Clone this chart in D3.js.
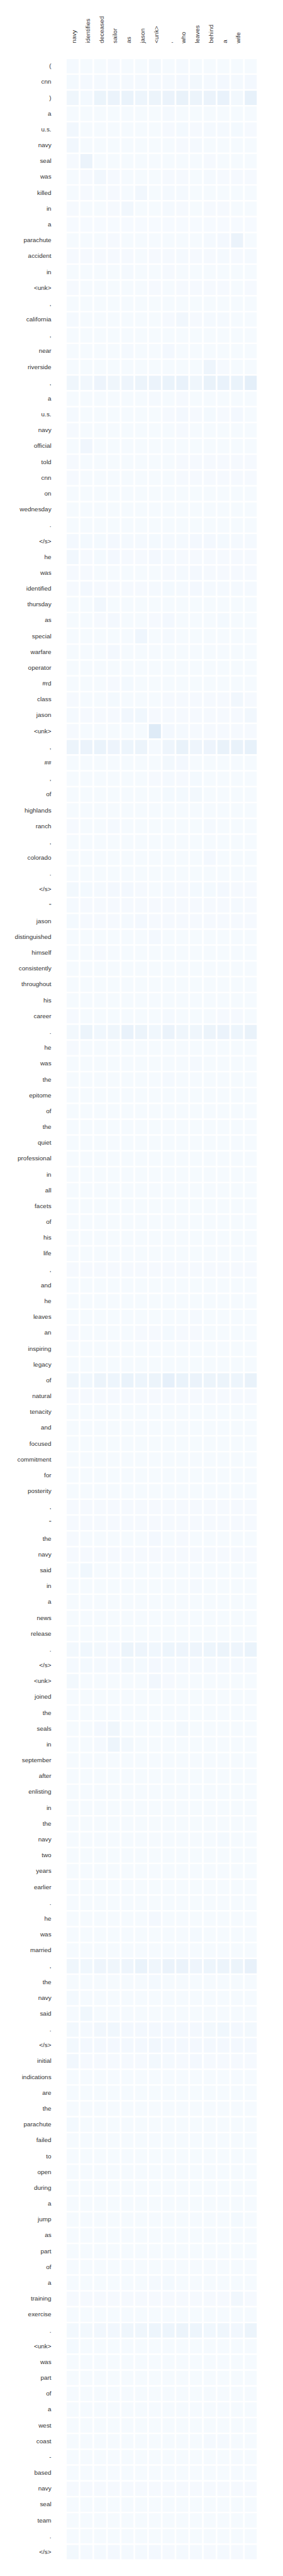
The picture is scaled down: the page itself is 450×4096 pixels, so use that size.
<!DOCTYPE html>
<html><head><meta charset="utf-8">
<script src="https://cdn.jsdelivr.net/npm/d3@7"></script>
<style>html,body{margin:0;padding:0;background:#fff;} svg{display:block}</style>
</head><body><svg id="chart"></svg>
<script>
const colLabels = ["navy","identifies","deceased","sailor","as","jason","<unk>",",","who","leaves","behind","a","wife",""];
const rowLabels = ["(","cnn",")","a","u.s.","navy","seal","was","killed","in","a","parachute","accident","in","<unk>",",","california",",","near","riverside",",","a","u.s.","navy","official","told","cnn","on","wednesday",".","</s>","he","was","identified","thursday","as","special","warfare","operator","#rd","class","jason","<unk>",",","##",",","of","highlands","ranch",",","colorado",".","</s>","\"","jason","distinguished","himself","consistently","throughout","his","career",".","he","was","the","epitome","of","the","quiet","professional","in","all","facets","of","his","life",",","and","he","leaves","an","inspiring","legacy","of","natural","tenacity","and","focused","commitment","for","posterity",",","\"","the","navy","said","in","a","news","release",".","</s>","<unk>","joined","the","seals","in","september","after","enlisting","in","the","navy","two","years","earlier",".","he","was","married",",","the","navy","said",".","</s>","initial","indications","are","the","parachute","failed","to","open","during","a","jump","as","part","of","a","training","exercise",".","<unk>","was","part","of","a","west","coast","-","based","navy","seal","team",".","</s>"];
// attention weights, in thousandths (one row per source token, one column per target token)
const weights = [
[14,10,10,12,10,11,24,11,13,11,11,11,10,11],
[18,14,15,16,14,15,17,16,22,24,16,21,15,20],
[40,18,58,62,66,50,56,60,72,56,60,70,24,82],
[10,9,9,9,9,9,10,14,10,10,10,10,10,10],
[32,10,11,11,10,11,11,12,18,12,15,15,18,12],
[32,10,10,10,10,10,10,11,12,15,10,10,10,10],
[12,62,11,11,11,11,11,11,11,11,12,11,11,11],
[11,12,30,12,10,10,11,12,12,11,16,12,12,12],
[11,12,11,12,11,32,11,14,15,11,11,11,11,11],
[12,11,11,12,30,11,11,15,12,11,12,12,11,11],
[7,7,7,7,7,7,7,7,7,7,7,7,7,7],
[10,10,10,12,10,10,10,10,10,10,14,20,60,11],
[12,12,12,12,12,11,12,12,13,12,12,14,12,14],
[11,10,10,11,15,10,11,12,11,11,11,11,11,11],
[12,11,11,11,11,11,12,11,12,12,12,12,11,12],
[10,9,9,9,9,9,10,10,10,10,10,10,10,10],
[15,10,10,10,10,10,11,12,28,12,16,16,11,11],
[10,9,9,9,9,9,10,10,10,10,10,10,10,10],
[10,9,9,10,14,10,11,20,10,10,10,10,10,10],
[10,10,10,10,10,10,10,10,11,10,45,12,11,11],
[42,30,52,42,46,55,60,66,70,40,72,70,66,96],
[10,10,10,10,10,10,14,10,12,10,10,10,10,10],
[14,10,10,10,10,10,10,12,22,12,18,12,20,11],
[12,10,10,10,10,10,11,11,12,11,11,11,11,11],
[10,36,10,10,10,10,10,10,10,10,10,10,10,10],
[12,11,11,11,11,11,11,11,12,12,12,12,12,12],
[12,11,11,11,11,11,11,11,12,12,12,12,12,12],
[10,10,10,10,10,10,10,10,10,11,11,11,11,11],
[10,10,10,10,10,10,10,10,10,10,10,10,10,10],
[10,10,10,10,10,10,10,10,10,10,10,10,10,10],
[20,18,18,20,17,15,18,16,17,20,22,18,15,15],
[30,12,18,20,12,12,20,14,12,12,12,12,12,12],
[12,12,11,11,11,11,11,12,13,22,12,12,12,12],
[12,20,12,12,12,12,13,18,15,22,13,13,13,13],
[10,10,28,10,10,10,10,10,10,11,10,10,10,10],
[10,10,12,20,10,11,12,22,11,11,11,18,11,11],
[10,10,11,11,10,38,10,15,11,10,10,10,10,10],
[10,10,10,20,10,10,10,11,10,10,10,10,10,10],
[10,10,10,10,10,10,10,10,10,10,10,10,10,10],
[10,10,10,12,18,11,10,10,10,11,10,10,10,10],
[12,11,11,18,11,11,11,12,12,12,12,12,28,12],
[15,12,12,12,30,35,12,12,12,12,12,12,12,30],
[12,11,11,11,11,11,125,20,14,12,12,12,12,12],
[55,60,66,52,50,56,14,46,72,46,52,72,72,82],
[10,10,10,10,10,10,11,25,22,10,10,10,10,10],
[11,11,11,11,11,11,12,15,12,18,11,11,11,11],
[10,10,10,10,10,10,11,18,18,25,11,11,11,11],
[10,10,10,10,10,10,10,10,10,10,11,10,10,10],
[12,11,11,15,11,11,11,11,11,11,15,11,11,11],
[10,10,10,10,10,10,10,11,10,10,10,10,10,10],
[10,10,10,10,10,10,10,10,10,11,20,10,10,10],
[8,8,8,8,8,8,8,8,8,8,8,8,8,8],
[25,18,15,22,20,12,10,15,12,18,18,20,12,12],
[15,12,12,12,12,12,12,12,12,12,12,12,13,12],
[18,12,12,12,14,20,12,12,12,12,12,12,12,12],
[10,10,10,10,10,10,22,10,10,10,10,10,10,10],
[10,10,12,11,10,10,10,10,10,10,10,10,10,10],
[10,10,10,10,10,10,10,10,10,10,10,10,10,10],
[10,10,10,10,10,10,10,10,10,10,10,10,10,10],
[10,10,10,10,10,10,10,10,10,10,10,10,10,10],
[12,11,11,11,11,11,11,15,11,11,11,12,12,11],
[25,55,35,40,70,55,35,60,40,40,55,60,50,72],
[12,11,11,11,11,11,11,11,11,11,11,11,11,11],
[10,10,10,10,10,10,10,10,10,15,10,10,10,10],
[10,10,10,10,10,10,10,15,10,10,10,10,10,10],
[10,10,10,10,10,10,10,10,10,10,10,10,10,10],
[8,8,8,8,8,8,8,8,8,8,8,8,8,8],
[8,8,8,8,8,8,8,8,8,8,8,8,8,8],
[8,8,8,8,8,8,8,8,8,8,8,8,8,8],
[8,8,8,8,8,8,8,8,8,8,8,8,8,8],
[10,10,10,10,10,10,10,10,10,10,10,10,10,10],
[8,8,8,8,8,8,8,8,8,8,8,8,8,8],
[8,8,8,8,8,8,8,8,8,8,8,8,8,8],
[8,8,8,8,8,8,8,8,8,8,8,8,8,8],
[8,8,8,8,8,8,8,8,8,8,8,8,8,8],
[10,10,10,10,10,10,10,10,10,10,10,10,10,10],
[12,12,12,12,12,12,12,12,12,12,12,12,12,12],
[10,10,10,10,10,10,10,10,10,10,10,10,10,10],
[10,10,10,10,10,10,10,10,10,10,10,10,10,10],
[10,10,10,10,10,10,10,10,10,15,10,10,10,10],
[12,11,11,11,11,12,12,18,12,12,11,11,11,11],
[10,10,10,10,10,10,10,10,10,10,10,10,10,10],
[8,8,8,8,8,8,8,8,8,8,8,8,8,8],
[40,35,55,50,65,50,55,85,65,60,55,55,50,72],
[12,12,12,12,12,12,12,12,12,12,12,12,12,12],
[10,10,10,10,10,10,10,10,10,10,10,10,10,10],
[8,8,8,8,8,8,8,8,8,8,8,8,8,8],
[8,8,8,8,8,8,8,8,8,8,8,8,8,8],
[8,8,8,8,8,8,8,8,8,8,8,8,8,8],
[8,8,8,8,8,8,8,8,8,8,8,8,8,8],
[10,10,10,10,10,10,10,10,10,10,10,10,10,10],
[12,12,12,12,12,12,12,12,12,12,12,12,12,12],
[12,12,12,12,12,12,12,12,12,12,12,12,12,12],
[12,11,11,11,11,11,20,11,12,11,11,11,11,11],
[12,12,12,12,12,12,12,12,12,12,12,12,12,12],
[10,35,10,10,10,10,10,10,10,10,10,10,10,10],
[10,10,10,10,10,10,10,10,10,15,10,10,10,10],
[10,10,10,10,10,10,10,10,10,10,10,10,10,10],
[8,8,8,8,8,8,8,8,8,8,8,8,8,8],
[8,8,8,8,8,8,8,8,8,8,8,8,8,8],
[25,35,25,22,55,45,35,50,45,45,50,55,45,65],
[15,18,14,14,25,18,22,15,15,15,15,15,15,15],
[25,10,10,10,10,10,28,12,10,10,10,10,10,10],
[10,10,10,10,10,10,10,10,10,10,10,10,10,10],
[10,10,10,10,10,10,10,10,10,10,10,10,10,10],
[10,10,22,40,10,10,10,10,25,10,10,10,10,10],
[10,10,15,50,25,10,10,10,10,10,10,10,10,10],
[10,10,10,10,10,10,10,10,10,10,10,10,10,10],
[10,10,10,10,10,10,10,10,10,10,10,10,10,10],
[10,10,10,10,10,10,10,10,10,10,10,10,10,10],
[10,10,10,10,10,10,10,10,10,10,10,10,10,10],
[8,8,8,8,8,8,8,8,8,8,8,8,8,8],
[10,10,10,10,10,10,10,10,10,10,10,18,10,10],
[10,10,10,10,10,10,10,10,10,10,10,10,10,10],
[10,10,10,10,10,10,10,10,10,10,10,10,10,10],
[8,8,8,8,8,8,8,8,8,8,8,8,8,8],
[10,10,10,10,10,10,10,10,10,10,10,10,10,10],
[10,10,10,10,10,10,22,10,10,10,10,10,10,10],
[10,10,10,10,10,10,10,10,10,18,10,10,10,10],
[10,10,10,10,10,10,10,10,10,10,10,10,10,10],
[40,35,45,40,45,65,40,60,60,45,50,55,55,75],
[10,10,10,10,10,10,18,10,10,10,10,10,10,10],
[18,10,10,10,10,10,10,10,10,10,10,10,10,10],
[10,35,10,10,10,10,10,10,10,10,10,10,10,10],
[25,15,30,35,22,22,22,22,20,22,25,35,20,25],
[25,20,20,22,20,20,28,20,20,20,20,20,20,20],
[30,12,12,12,12,12,25,14,12,20,12,12,12,12],
[10,10,10,10,10,10,10,10,10,10,10,10,10,10],
[10,10,10,10,10,10,10,10,10,10,10,10,10,10],
[8,8,8,8,8,8,8,8,8,8,8,8,8,8],
[18,10,10,10,10,10,10,10,10,10,10,10,10,10],
[10,10,10,10,10,10,10,10,10,10,10,10,10,10],
[10,10,10,10,10,10,10,10,10,10,10,10,10,10],
[10,10,10,10,10,10,10,10,10,10,10,10,10,10],
[10,10,10,10,10,10,10,10,10,10,10,10,10,10],
[10,10,10,10,10,10,10,10,10,10,10,10,10,10],
[10,10,10,10,10,10,10,10,10,10,10,10,18,10],
[10,10,10,10,10,10,10,10,10,10,10,10,10,10],
[10,10,10,10,10,10,10,10,10,10,10,10,10,10],
[10,10,10,10,10,10,10,10,10,10,10,10,10,10],
[10,10,10,10,10,10,15,18,10,10,10,10,10,10],
[12,12,12,12,12,12,12,12,12,12,12,12,28,12],
[10,10,10,10,10,10,10,10,10,10,10,10,10,10],
[25,25,30,30,40,40,50,50,55,50,35,40,30,55],
[18,10,10,10,10,10,10,10,10,10,10,10,10,10],
[10,10,10,10,10,10,10,10,10,10,10,10,10,10],
[10,10,10,10,10,10,10,10,10,10,10,10,10,10],
[10,10,10,10,10,10,10,10,10,10,10,10,10,10],
[10,10,10,10,10,10,10,10,10,10,10,10,10,10],
[10,10,10,10,10,10,10,10,10,10,10,10,10,10],
[10,10,10,10,10,10,10,10,10,10,15,15,10,10],
[10,10,10,10,10,10,10,10,10,10,10,10,10,10],
[10,10,10,10,10,10,10,10,10,10,10,10,10,10],
[12,12,12,12,12,12,12,12,12,12,12,12,12,12],
[10,10,10,10,10,10,10,10,10,10,10,10,10,10],
[10,10,10,10,10,10,10,10,10,10,10,10,10,10],
[10,10,10,10,10,10,10,10,10,10,10,10,10,10],
[25,15,15,22,15,15,20,12,15,15,12,15,12,15]
];

const W = 543, H = 4942, S = 450 / 543;
const svg = d3.select('#chart')
  .attr('width', W * S).attr('height', H * S)
  .attr('viewBox', `0 0 ${W} ${H}`);

const x = d3.scaleBand().domain(d3.range(colLabels.length)).range([126.35, 494.3]);
const y = d3.scaleBand().domain(d3.range(rowLabels.length)).range([111.8, 111.8 + rowLabels.length * 30.38]);
const color = d3.scaleSequential(d3.interpolateBlues).domain([0, 1000]);

const cells = [];
weights.forEach((row, i) => row.forEach((v, j) => cells.push({i, j, v})));

svg.append('g').selectAll('rect').data(cells).join('rect')
  .attr('x', d => x(d.j) + 1.65)
  .attr('y', d => y(d.i) + 1.5)
  .attr('width', x.bandwidth() - 3.3)
  .attr('height', y.bandwidth() - 3)
  .attr('fill', d => color(d.v));

const font = "'Liberation Sans', Arial, sans-serif";
svg.append('g').selectAll('text').data(rowLabels).join('text')
  .attr('x', 98.5)
  .attr('y', (d, i) => y(i) + y.bandwidth() / 2)
  .attr('dy', '0.3em')
  .attr('text-anchor', 'end')
  .attr('font-family', font).attr('font-size', 12).attr('fill', '#333')
  .text(d => d);

svg.append('g').selectAll('text').data(colLabels).join('text')
  .attr('transform', (d, j) => `translate(${x(j) + x.bandwidth() / 2},83) rotate(-90)`)
  .attr('dy', '0.55em')
  .attr('text-anchor', 'start')
  .attr('font-family', font).attr('font-size', 12).attr('fill', '#333')
  .text(d => d);
</script>
</body></html>
